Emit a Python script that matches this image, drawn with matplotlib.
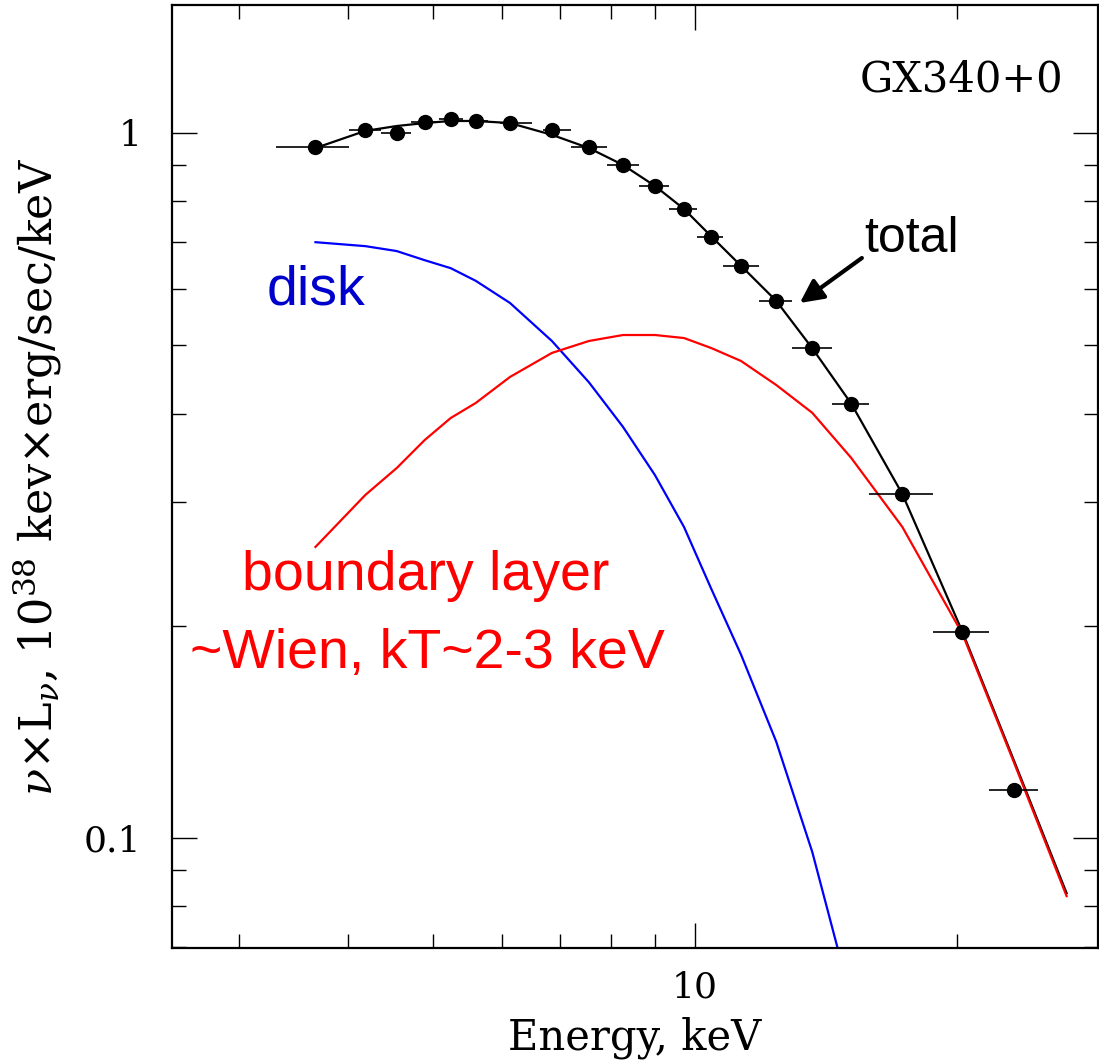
import matplotlib
matplotlib.use("Agg")
import matplotlib.pyplot as plt
from matplotlib.ticker import LogLocator, FixedLocator, FixedFormatter, NullFormatter
import numpy as np

# GX340+0 spectrum, keV and 1e38 keV erg/s/keV
e_lo = [3.307, 4.012, 4.366, 4.716, 5.078, 5.514, 5.970, 6.688, 7.203, 7.922,
        8.623, 9.335, 10.05, 10.77, 11.85, 12.93, 14.37, 15.85, 18.77, 21.72]
e_hi = [4.012, 4.366, 4.716, 5.051, 5.412, 5.783, 6.495, 7.203, 7.922, 8.623,
        9.335, 10.05, 10.77, 11.85, 12.93, 14.37, 15.85, 18.77, 21.72, 24.72]
e_mid = [3.667, 4.184, 4.545, 4.894, 5.243, 5.601, 6.131, 6.849, 7.553, 8.264,
         8.995, 9.713, 10.43, 11.29, 12.39, 13.63, 15.11, 17.29, 20.27, 23.21]
flux = [0.955, 1.010, 1.000, 1.037, 1.047, 1.040, 1.033, 1.010, 0.955, 0.901,
        0.841, 0.780, 0.712, 0.648, 0.578, 0.495, 0.413, 0.3076, 0.196, 0.117]

e_model = e_mid + [26.69]
total = [0.952, 1.007, 1.023, 1.033, 1.040, 1.040, 1.033, 0.994, 0.952, 0.901,
         0.841, 0.780, 0.714, 0.648, 0.578, 0.495, 0.413, 0.3076, 0.196, 0.129, 0.0835]
disk = [0.700, 0.691, 0.680, 0.660, 0.643, 0.617, 0.574, 0.507, 0.443, 0.383,
        0.327, 0.276, 0.226, 0.182, 0.137, 0.0955, 0.0589]
bl = [0.2587, 0.3066, 0.3347, 0.3668, 0.3942, 0.4140, 0.4507, 0.4875, 0.5069, 0.5169,
      0.5169, 0.5118, 0.4955, 0.4749, 0.4391, 0.4009, 0.3459, 0.2762, 0.1947, 0.1282, 0.0827]

plt.rcParams['font.family'] = ['DejaVu Serif']
plt.rcParams['mathtext.fontset'] = 'dejavuserif'

fig = plt.figure(figsize=(10.99, 10.63), dpi=100)
ax = fig.add_axes([172/1099, 1 - 948/1063, 926/1099, 943/1063])

xm = np.array(e_mid)
xerr = [xm - np.array(e_lo), np.array(e_hi) - xm]

ax.plot(e_model, total, color='black', lw=1.6)
ax.plot(e_model[:len(disk)], disk, color='#0000ff', lw=1.6)
ax.plot(e_model, bl, color='#ff0000', lw=1.6)
ax.errorbar(e_mid, flux, xerr=xerr, fmt='o', color='black', ms=10,
            elinewidth=1.2, capsize=0)

ax.set_xscale('log')
ax.set_yscale('log')
ax.set_xlim(2.51, 29.0)
ax.set_ylim(0.0698, 1.519)

ax.xaxis.set_major_locator(FixedLocator([10]))
ax.xaxis.set_major_formatter(FixedFormatter(['10']))
ax.xaxis.set_minor_locator(LogLocator(base=10, subs=np.arange(2, 10)))
ax.xaxis.set_minor_formatter(NullFormatter())
ax.yaxis.set_major_locator(FixedLocator([0.1, 1]))
ax.yaxis.set_major_formatter(FixedFormatter(['0.1', '1']))
ax.yaxis.set_minor_locator(LogLocator(base=10, subs=np.arange(2, 10)))
ax.yaxis.set_minor_formatter(NullFormatter())

ax.tick_params(which='both', direction='in', top=True, right=True, width=1.0)
ax.tick_params(which='major', length=18, labelsize=26)
ax.tick_params(axis='x', which='major', pad=16)
ax.tick_params(axis='y', which='major', pad=22)
ax.tick_params(which='minor', length=10)
for s in ax.spines.values():
    s.set_linewidth(1.6)

ax.set_xlabel('Energy, keV', fontsize=30, labelpad=9)
ax.set_ylabel(r'$\nu$$\times$L$_\nu$, 10$^{38}$ kev$\times$erg/sec/keV', fontsize=32, labelpad=14)

ax.text(0.853, 0.908, 'GX340+0', transform=ax.transAxes, fontsize=30,
        ha='center', va='baseline')

sans = 'Liberation Sans'
ax.text(0.1555, 0.682, 'disk', transform=ax.transAxes, fontsize=40,
        family=sans, color='#0000cc', ha='center', va='baseline')
ax.text(0.799, 0.738, 'total', transform=ax.transAxes, fontsize=36,
        family=sans, color='black', ha='center', va='baseline')
ax.text(0.274, 0.3797, 'boundary layer', transform=ax.transAxes, fontsize=40,
        family=sans, color='#ff0000', ha='center', va='baseline')
ax.text(0.2755, 0.297, '~Wien, kT~2-3 keV', transform=ax.transAxes, fontsize=40,
        family=sans, color='#ff0000', ha='center', va='baseline')

ax.annotate('', xy=(0.678, 0.684), xytext=(0.745, 0.7317),
            xycoords='axes fraction', textcoords='axes fraction',
            arrowprops=dict(arrowstyle='-|>', color='black', lw=3,
                            mutation_scale=35, shrinkA=0, shrinkB=0))

fig.savefig('out.png', dpi=100)
